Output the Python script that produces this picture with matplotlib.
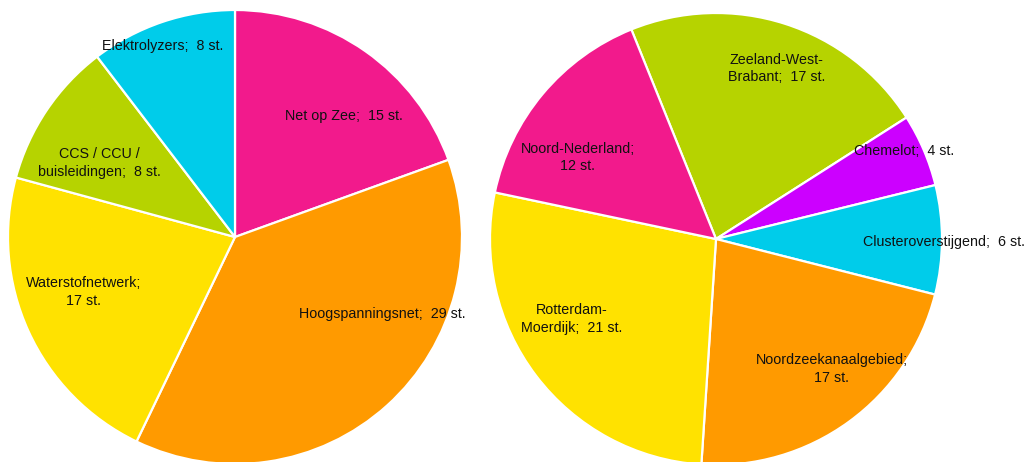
import numpy as np
import matplotlib
matplotlib.use("Agg")
import matplotlib.pyplot as plt

plt.rcParams['font.family'] = ['Liberation Sans', 'DejaVu Sans']

# left pie: themes ({v} = number of projects)
left_labels = ["Net op Zee;  {v} st.", "Hoogspanningsnet;  {v} st.", "Waterstofnetwerk;\n{v} st.",
               "CCS / CCU /\nbuisleidingen;  {v} st.", "Elektrolyzers;  {v} st."]
left_values = [15, 29, 17, 8, 8]
left_colors = ["#F21A8C", "#FF9A00", "#FFE200", "#B6D300", "#00CCEA"]
left_start = 90
# label placement (radius fraction, angle in degrees)
left_lab_r = [0.72, 0.73, 0.71, 0.68, 0.90]
left_lab_a = [48, -27.6, 200, 151.4, 110.7]

# right pie: regions
right_labels = ["Zeeland-West-\nBrabant;  {v} st.", "Chemelot;  {v} st.", "Clusteroverstijgend;  {v} st.",
                "Noordzeekanaalgebied;\n{v} st.", "Rotterdam-\nMoerdijk;  {v} st.", "Noord-Nederland;\n{v} st."]
right_values = [17, 4, 6, 17, 21, 12]
right_colors = ["#B6D300", "#CC00FF", "#00CCEA", "#FF9A00", "#FFE200", "#F21A8C"]
right_start = 112
right_lab_r = [0.80, 0.92, 1.01, 0.77, 0.73, 0.71]
right_lab_a = [70.5, 25, -0.8, -48.3, 209, 149.6]


def draw_pie(fig, cx, cy, r, values, colors, labels, start, lab_r, lab_a):
    W, H = 1028, 462
    ax = fig.add_axes([(cx - r) / W, (H - cy - r) / H, 2 * r / W, 2 * r / H])
    ax.pie(values, colors=colors, startangle=start, counterclock=False, radius=1,
           wedgeprops=dict(edgecolor="white", linewidth=1.6))
    ax.set_xlim(-1, 1)
    ax.set_ylim(-1, 1)
    ax.set_aspect("equal")
    ax.axis("off")
    for lab, v, rr, aa in zip(labels, values, lab_r, lab_a):
        t = np.deg2rad(aa)
        ax.text(rr * np.cos(t), rr * np.sin(t), lab.format(v=v), ha="center", va="center",
                fontsize=10.3, color="#111111", linespacing=1.3, clip_on=False)
    return ax


fig = plt.figure(figsize=(10.28, 4.62), dpi=100)
draw_pie(fig, 235, 237, 227, left_values, left_colors, left_labels, left_start, left_lab_r, left_lab_a)
draw_pie(fig, 716, 239, 226, right_values, right_colors, right_labels, right_start, right_lab_r, right_lab_a)
fig.savefig("out.png", dpi=100)
